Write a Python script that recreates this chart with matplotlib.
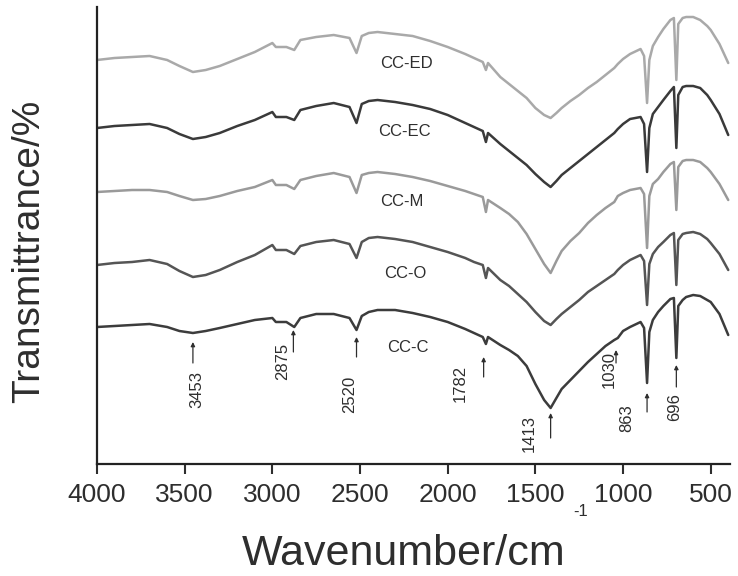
import matplotlib
matplotlib.use("Agg")
import matplotlib.pyplot as plt

plt.rcParams['font.family'] = ['Liberation Sans', 'DejaVu Sans']

# Wavenumber grid (cm^-1) shared by all spectra
wavenumber = [4000, 3900, 3800, 3700, 3600, 3530, 3453, 3380, 3300, 3200,
              3100, 3000, 2980, 2920, 2875, 2840, 2750, 2650, 2560, 2520,
              2490, 2450, 2400, 2300, 2200, 2100, 2000, 1900, 1850, 1800,
              1782, 1770, 1700, 1650, 1600, 1550, 1500, 1450, 1413, 1380,
              1350, 1300, 1250, 1200, 1150, 1100, 1050, 1030, 1000, 960,
              900, 880, 863, 850, 830, 800, 770, 730, 710, 696,
              685, 660, 640, 600, 560, 520, 500, 450, 400]

# Stacked transmittance traces (arbitrary units, offset for clarity)
t_cc_ed = [404, 406, 407, 408, 404, 398, 392, 394, 398, 405,
           412, 421, 417, 417, 414, 424, 427, 429, 426, 411,
           428, 431, 432, 430, 428, 423, 417, 410, 406, 402,
           394, 401, 387, 380, 373, 366, 356, 349, 346, 351,
           356, 363, 369, 376, 382, 389, 396, 400, 405, 410,
           415, 408, 361, 404, 418, 427, 435, 444, 446, 384,
           440, 446, 447, 447, 444, 438, 434, 420, 401]
t_cc_ec = [336, 338, 339, 340, 336, 330, 325, 327, 331, 338,
           344, 352, 347, 347, 344, 354, 358, 361, 357, 341,
           360, 363, 364, 362, 359, 355, 349, 341, 337, 333,
           322, 331, 320, 313, 306, 299, 290, 282, 277, 283,
           289, 296, 303, 310, 317, 324, 331, 335, 340, 345,
           347, 340, 292, 336, 350, 357, 364, 373, 377, 316,
           369, 377, 378, 378, 376, 369, 364, 350, 329]
t_cc_m = [272, 273, 274, 274, 272, 268, 264, 265, 268, 273,
          277, 284, 279, 279, 275, 284, 288, 291, 287, 271,
          289, 291, 292, 290, 287, 283, 278, 273, 270, 267,
          252, 264, 256, 250, 242, 230, 215, 200, 191, 203,
          213, 223, 231, 241, 249, 256, 262, 268, 271, 274,
          276, 270, 216, 268, 280, 285, 292, 300, 302, 254,
          297, 303, 304, 304, 302, 296, 292, 280, 264]
t_cc_o = [199, 201, 202, 204, 200, 193, 187, 189, 194, 202,
          209, 219, 214, 214, 210, 218, 222, 224, 220, 206,
          222, 226, 227, 225, 222, 217, 212, 206, 202, 199,
          186, 196, 184, 178, 170, 162, 152, 143, 139, 145,
          150, 157, 164, 172, 178, 184, 190, 194, 199, 204,
          209, 203, 159, 200, 210, 217, 222, 229, 231, 179,
          224, 230, 231, 232, 230, 225, 221, 210, 194]
t_cc_c = [137, 138, 139, 140, 137, 133, 131, 133, 136, 140,
          144, 146, 142, 142, 137, 146, 150, 150, 146, 134,
          148, 152, 154, 154, 151, 147, 142, 135, 131, 127,
          120, 127, 119, 114, 108, 98, 80, 64, 56, 66,
          75, 84, 93, 102, 110, 118, 124, 126, 133, 137,
          142, 136, 81, 132, 144, 152, 158, 165, 166, 106,
          158, 164, 167, 169, 168, 164, 162, 150, 129]

series_names = ["CC-ED", "CC-EC", "CC-M", "CC-O", "CC-C"]
series_values = [t_cc_ed, t_cc_ec, t_cc_m, t_cc_o, t_cc_c]
series_colors = ["#a9a9a9", "#3a3a3a", "#9a9a9a", "#555555", "#3c3c3c"]

# Name label placement (wavenumber, transmittance)
name_pos = [(2233, 401), (2244, 332), (2261, 262), (2244, 191), (2227, 116)]

# Band assignments marked on the CC-C trace
band_labels = ["3453", "2875", "2520", "1782", "1413", "1030", "863", "696"]
band_arrow_x = [3453, 2880, 2520, 1795, 1413, 1040, 863, 696]
band_arrow_y = [(101, 122), (112, 134), (107, 127), (87, 107),
                (26, 51), (101, 114), (52, 71), (77, 99)]
band_text_pos = [(3432, 75), (2940, 103), (2558, 70), (1931, 81),
                 (1537, 31), (1076, 94), (980, 46), (705, 57)]

xtick_values = [4000, 3500, 3000, 2500, 2000, 1500, 1000, 500]

text_color = "#2e2e2e"

fig = plt.figure(figsize=(7.38, 5.76), dpi=100)
ax = fig.add_axes([97 / 738, 1 - 464 / 576, (730 - 97) / 738, (464 - 7) / 576])

for vals, col in zip(series_values, series_colors):
    ax.plot(wavenumber, vals, color=col, lw=1.8,
            solid_joinstyle='round', solid_capstyle='round')

for name, (xw, yt) in zip(series_names, name_pos):
    ax.text(xw, yt, name, fontsize=12, color=text_color, ha='center', va='center')

for lab, ax_x, (y0, y1), (tx, ty) in zip(band_labels, band_arrow_x, band_arrow_y, band_text_pos):
    ax.annotate('', xy=(ax_x, y1), xytext=(ax_x, y0),
                arrowprops=dict(arrowstyle='-|>', color=text_color, lw=0.9,
                                mutation_scale=6, shrinkA=0, shrinkB=0))
    ax.text(tx, ty, lab, rotation=90, fontsize=12, color=text_color,
            ha='center', va='center')

ax.set_xlim(4000, 390)
ax.set_ylim(0, 457)
ax.set_xticks(xtick_values)
ax.set_xticklabels([str(v) for v in xtick_values])
ax.set_yticks([])
ax.tick_params(axis='x', direction='out', length=7, width=1.5, pad=7,
               labelsize=19, colors=text_color)
for side in ('top', 'right'):
    ax.spines[side].set_visible(False)
for side in ('left', 'bottom'):
    ax.spines[side].set_linewidth(1.6)
    ax.spines[side].set_color('#222222')

ax.set_xlabel('Wavenumber/cm', fontsize=31, color=text_color, va='baseline')
ax.xaxis.set_label_coords((404 - 97) / 633, -(565 - 464) / 457)
fig.text(581 / 738, 1 - 511 / 576, '-1', fontsize=12, color=text_color,
         ha='center', va='center')
ax.set_ylabel('Transmittrance/%', fontsize=28, color=text_color, va='center', ha='center')
ax.yaxis.set_label_coords((29 - 97) / 633, (464 - 251) / 457)

fig.savefig('out.png', dpi=100)
